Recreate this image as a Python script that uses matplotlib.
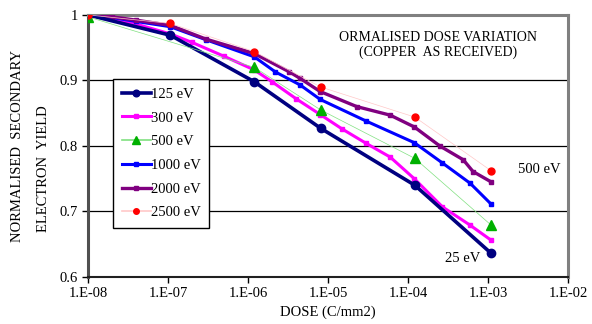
import numpy as np
import matplotlib
matplotlib.use('Agg')
import matplotlib.pyplot as plt
from matplotlib.ticker import FixedLocator, FixedFormatter

plt.rcParams['font.family'] = ['Liberation Serif', 'DejaVu Serif']

# dose values (C/mm2) and normalised yields
dose_125 = [1.0e-8, 1.07e-7, 1.2e-6, 8.1e-6, 1.22e-4, 1.1e-3]
sey_125 = [1.0, 0.969, 0.898, 0.827, 0.740, 0.636]

dose_300 = [1.0e-8, 2e-8, 4e-8, 1.07e-7, 2e-7, 5e-7, 1.2e-6, 2e-6, 4e-6, 8e-6,
            1.5e-5, 3e-5, 6e-5, 1.2e-4, 2.7e-4, 6e-4, 1.1e-3]
sey_300 = [1.0, 0.995, 0.986, 0.971, 0.958, 0.937, 0.916, 0.898, 0.872, 0.848,
           0.826, 0.804, 0.783, 0.750, 0.707, 0.679, 0.656]

dose_500 = [1.0e-8, 1.2e-6, 8.1e-6, 1.22e-4, 1.1e-3]
sey_500 = [0.997, 0.920, 0.855, 0.781, 0.679]

dose_1000 = [1.0e-8, 2e-8, 4e-8, 1.07e-7, 3e-7, 1.2e-6, 2.2e-6, 4.5e-6, 8e-6,
             3e-5, 1.2e-4, 2.7e-4, 6e-4, 1.1e-3]
sey_1000 = [1.0, 0.996, 0.990, 0.982, 0.962, 0.936, 0.913, 0.893, 0.871,
            0.838, 0.805, 0.774, 0.743, 0.711]

dose_2000 = [1.0e-8, 2e-8, 4e-8, 1.07e-7, 3e-7, 1.2e-6, 3.3e-6, 4.5e-6, 8e-6,
             2.3e-5, 6e-5, 1.2e-4, 2.5e-4, 4.9e-4, 6.5e-4, 1.1e-3]
sey_2000 = [1.0, 0.997, 0.992, 0.984, 0.963, 0.941, 0.913, 0.903, 0.883,
            0.860, 0.847, 0.829, 0.800, 0.779, 0.761, 0.745]

dose_2500 = [1.0e-8, 1.07e-7, 1.2e-6, 8.1e-6, 1.22e-4, 1.1e-3]
sey_2500 = [1.0, 0.987, 0.944, 0.890, 0.844, 0.762]

x_ticks = [1e-8, 1e-7, 1e-6, 1e-5, 1e-4, 1e-3, 1e-2]
x_labels = ['1.E-08', '1.E-07', '1.E-06', '1.E-05', '1.E-04', '1.E-03', '1.E-02']
y_ticks = [0.6, 0.7, 0.8, 0.9, 1.0]
y_labels = ['0.6', '0.7', '0.8', '0.9', '1']

fig = plt.figure(figsize=(5.92, 3.24), dpi=100)
ax = fig.add_axes([0.1486, 0.145, 0.8108, 0.809])

for y in [0.7, 0.8, 0.9]:
    ax.axhline(y, color='black', lw=0.9, zorder=1)

ax.plot(dose_125, sey_125, color='#000080', lw=2.6, marker='o', ms=6, label='125 eV', zorder=5)
ax.plot(dose_300, sey_300, color='#FF00FF', lw=2.2, marker='s', ms=3.5, label='300 eV', zorder=4)
l500, = ax.plot(dose_500, sey_500, color='#80E080', lw=0.5, marker='^', ms=7,
                mfc='#00B000', mec='#00B000', label='500 eV', zorder=6)
ax.plot(dose_1000, sey_1000, color='#0000FF', lw=2.2, marker='s', ms=3, label='1000 eV', zorder=4)
ax.plot(dose_2000, sey_2000, color='#800080', lw=2.4, marker='s', ms=3.5, label='2000 eV', zorder=4)
l2500, = ax.plot(dose_2500, sey_2500, color='#FFC8C8', lw=0.5, marker='o', ms=5,
                 mfc='#FF0000', mec='#FF0000', label='2500 eV', zorder=6)

ax.set_xscale('log')
ax.set_xlim(1e-8, 1e-2)
ax.set_ylim(0.6, 1.0)
ax.xaxis.set_major_locator(FixedLocator(x_ticks))
ax.xaxis.set_major_formatter(FixedFormatter(x_labels))
ax.xaxis.set_minor_locator(FixedLocator([]))
ax.set_yticks(y_ticks)
ax.set_yticklabels(y_labels)
ax.tick_params(axis='both', labelsize=10.5, length=4, width=1, direction='out', pad=3)

ax.spines['top'].set_color('#808080')
ax.spines['top'].set_linewidth(2.2)
ax.spines['right'].set_color('#808080')
ax.spines['right'].set_linewidth(2.2)
ax.spines['left'].set_color('#505050')
ax.spines['left'].set_linewidth(2.2)
ax.spines['bottom'].set_color('#202020')
ax.spines['bottom'].set_linewidth(1.5)

leg = ax.legend(loc='upper left', bbox_to_anchor=(0.052, 0.756), fontsize=10.5,
                frameon=True, fancybox=False, edgecolor='black', framealpha=1,
                handlelength=2.0, handletextpad=0.0, labelspacing=0.72,
                borderpad=0.6, borderaxespad=0, markerscale=0.8)
leg.get_frame().set_linewidth(1.0)
leg.set_zorder(10)
for h in leg.get_lines():
    if h.get_label() in ('500 eV', '2500 eV'):
        h.set_linewidth(1.2)

ax.text(0.73, 0.885, 'ORMALISED DOSE VARIATION\n(COPPER  AS RECEIVED)',
        transform=ax.transAxes, ha='center', va='center', fontsize=10,
        linespacing=1.2)
ax.text(0.94, 0.41, '500 eV', transform=ax.transAxes, ha='center', va='center', fontsize=10.5)
ax.text(0.78, 0.07, '25 eV', transform=ax.transAxes, ha='center', va='center', fontsize=10.5)

ax.set_xlabel('DOSE (C/mm2)', fontsize=10.5, labelpad=4)
fig.text(0.029, 0.55, 'NORMALISED  SECONDARY', rotation=90, ha='center', va='center', fontsize=10.5)
fig.text(0.074, 0.48, 'ELECTRON  YIELD', rotation=90, ha='center', va='center', fontsize=10.5)

fig.savefig('out.png', dpi=100)
